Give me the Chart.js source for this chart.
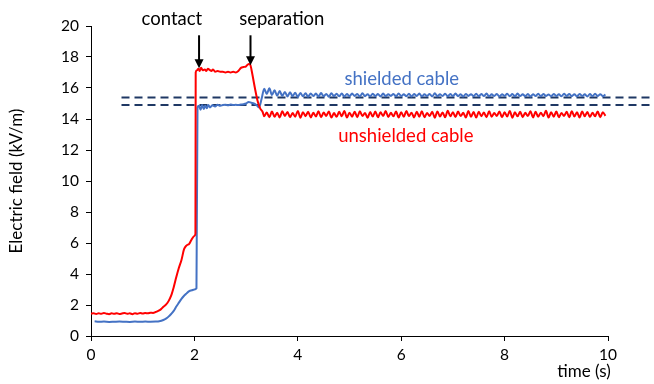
<!DOCTYPE html>
<html>
<head>
<meta charset="utf-8">
<script src="https://cdn.jsdelivr.net/npm/chart.js@4/dist/chart.umd.min.js"></script>
<style>
  html, body { margin: 0; padding: 0; background: #fff; }
  canvas { display: block; }
</style>
</head>
<body>
<canvas id="fieldChart" width="654" height="384"></canvas>
<script>
// ---- data ----
const xTicks = [0, 2, 4, 6, 8, 10];
const yTicks = [0, 2, 4, 6, 8, 10, 12, 14, 16, 18, 20];

// unshielded cable, before it settles
const redHeadTime = [
  0.00, 0.05, 0.10, 0.15, 0.20, 0.25, 0.30, 0.35, 0.40, 0.45,
  0.50, 0.55, 0.60, 0.65, 0.70, 0.75, 0.80, 0.85, 0.90, 0.95,
  1.00, 1.05, 1.10, 1.15, 1.20, 1.25, 1.30, 1.35, 1.40, 1.45,
  1.50, 1.55, 1.60, 1.65, 1.70, 1.75, 1.80, 1.85, 1.90, 1.95,
  2.00, 2.02, 2.025, 2.05, 2.08, 2.10, 2.13, 2.16, 2.20, 2.23,
  2.26, 2.30, 2.33, 2.36, 2.40, 2.45, 2.50, 2.55, 2.60, 2.65,
  2.70, 2.75, 2.80, 2.85, 2.90, 2.95, 3.00, 3.05, 3.08, 3.12,
  3.17, 3.22, 3.27, 3.32
];
const redHeadField = [
  1.44, 1.47, 1.42, 1.46, 1.43, 1.48, 1.44, 1.41, 1.46, 1.43,
  1.47, 1.42, 1.45, 1.48, 1.43, 1.46, 1.41, 1.47, 1.44, 1.49,
  1.45, 1.48, 1.46, 1.50, 1.49, 1.55, 1.62, 1.72, 1.88, 2.02,
  2.25, 2.60, 3.15, 3.80, 4.40, 4.90, 5.60, 5.85, 5.95, 6.25,
  6.45, 6.60, 17.00, 17.15, 17.25, 17.10, 17.30, 17.15, 17.20, 17.10,
  17.25, 17.15, 17.10, 17.20, 17.05, 17.10, 17.05, 17.05, 17.00, 17.05,
  17.00, 17.05, 17.00, 17.10, 17.30, 17.35, 17.40, 17.55, 17.50, 16.90,
  16.00, 15.20, 14.70, 14.45
];

// shielded cable, before it settles
const blueHeadTime = [
  0.07, 0.15, 0.25, 0.35, 0.45, 0.55, 0.65, 0.75, 0.85, 0.95,
  1.05, 1.15, 1.25, 1.32, 1.40, 1.45, 1.50, 1.55, 1.60, 1.65,
  1.70, 1.75, 1.80, 1.85, 1.90, 1.95, 2.00, 2.04, 2.06, 2.09,
  2.12, 2.15, 2.18, 2.21, 2.24, 2.27, 2.30, 2.35, 2.40, 2.45,
  2.50, 2.55, 2.60, 2.65, 2.70, 2.75, 2.80, 2.85, 2.90, 2.95,
  3.00, 3.05, 3.10, 3.15, 3.20, 3.25, 3.30
];
const blueHeadField = [
  0.95, 0.92, 0.93, 0.91, 0.92, 0.93, 0.92, 0.91, 0.93, 0.92,
  0.93, 0.92, 0.93, 0.95, 1.03, 1.12, 1.25, 1.42, 1.62, 1.90,
  2.15, 2.40, 2.60, 2.75, 2.90, 2.95, 3.00, 3.08, 14.75, 14.85,
  14.60, 14.90, 14.65, 14.85, 14.70, 14.90, 14.75, 14.88, 14.80, 14.92,
  14.85, 14.90, 14.92, 14.88, 14.93, 14.90, 14.92, 14.90, 14.93, 14.95,
  15.00, 15.10, 15.05, 15.00, 14.90, 14.75, 15.30
];

// settled part, same sampling for both cables
const tailTime = [
  3.35, 3.40, 3.45, 3.50, 3.55, 3.60, 3.65, 3.70, 3.75, 3.80,
  3.85, 3.90, 3.95, 4.00, 4.05, 4.10, 4.15, 4.20, 4.25, 4.30,
  4.35, 4.40, 4.45, 4.50, 4.55, 4.60, 4.65, 4.70, 4.75, 4.80,
  4.85, 4.90, 4.95, 5.00, 5.05, 5.10, 5.15, 5.20, 5.25, 5.30,
  5.35, 5.40, 5.45, 5.50, 5.55, 5.60, 5.65, 5.70, 5.75, 5.80,
  5.85, 5.90, 5.95, 6.00, 6.05, 6.10, 6.15, 6.20, 6.25, 6.30,
  6.35, 6.40, 6.45, 6.50, 6.55, 6.60, 6.65, 6.70, 6.75, 6.80,
  6.85, 6.90, 6.95, 7.00, 7.05, 7.10, 7.15, 7.20, 7.25, 7.30,
  7.35, 7.40, 7.45, 7.50, 7.55, 7.60, 7.65, 7.70, 7.75, 7.80,
  7.85, 7.90, 7.95, 8.00, 8.05, 8.10, 8.15, 8.20, 8.25, 8.30,
  8.35, 8.40, 8.45, 8.50, 8.55, 8.60, 8.65, 8.70, 8.75, 8.80,
  8.85, 8.90, 8.95, 9.00, 9.05, 9.10, 9.15, 9.20, 9.25, 9.30,
  9.35, 9.40, 9.45, 9.50, 9.55, 9.60, 9.65, 9.70, 9.75, 9.80,
  9.85, 9.90, 9.95
];
const redTailField = [
  14.18, 14.42, 14.12, 14.48, 14.15, 14.40, 14.10, 14.50, 14.20, 14.45,
  14.12, 14.38, 14.15, 14.52, 14.08, 14.44, 14.18, 14.47, 14.10, 14.40,
  14.16, 14.50, 14.12, 14.42, 14.20, 14.48, 14.09, 14.38, 14.14, 14.46,
  14.18, 14.52, 14.10, 14.41, 14.15, 14.47, 14.12, 14.50, 14.20, 14.39,
  14.08, 14.45, 14.16, 14.49, 14.11, 14.43, 14.19, 14.51, 14.13, 14.40,
  14.17, 14.48, 14.09, 14.44, 14.14, 14.52, 14.18, 14.41, 14.10, 14.47,
  14.15, 14.50, 14.12, 14.39, 14.20, 14.46, 14.08, 14.49, 14.16, 14.42,
  14.11, 14.53, 14.17, 14.44, 14.13, 14.48, 14.19, 14.40, 14.10, 14.51,
  14.14, 14.45, 14.09, 14.47, 14.18, 14.42, 14.12, 14.50, 14.15, 14.38,
  14.20, 14.49, 14.11, 14.44, 14.16, 14.52, 14.08, 14.43, 14.17, 14.47,
  14.12, 14.40, 14.19, 14.50, 14.10, 14.46, 14.14, 14.41, 14.18, 14.53,
  14.09, 14.44, 14.15, 14.48, 14.12, 14.39, 14.20, 14.47, 14.11, 14.50,
  14.16, 14.43, 14.10, 14.49, 14.18, 14.45, 14.13, 14.41, 14.17, 14.48,
  14.12, 14.44, 14.20
];
const blueTailField = [
  15.95, 15.62, 15.98, 15.55, 15.85, 15.50, 15.80, 15.48, 15.75, 15.45,
  15.72, 15.47, 15.70, 15.42, 15.68, 15.46, 15.66, 15.44, 15.65, 15.48,
  15.64, 15.45, 15.67, 15.47, 15.62, 15.44, 15.66, 15.48, 15.63, 15.46,
  15.65, 15.45, 15.61, 15.47, 15.64, 15.49, 15.62, 15.45, 15.66, 15.47,
  15.60, 15.46, 15.63, 15.48, 15.61, 15.45, 15.64, 15.47, 15.60, 15.49,
  15.62, 15.46, 15.65, 15.48, 15.59, 15.47, 15.63, 15.45, 15.61, 15.49,
  15.64, 15.46, 15.60, 15.48, 15.62, 15.45, 15.66, 15.47, 15.59, 15.49,
  15.63, 15.46, 15.61, 15.48, 15.64, 15.47, 15.60, 15.45, 15.62, 15.49,
  15.60, 15.47, 15.63, 15.46, 15.61, 15.48, 15.64, 15.46, 15.59, 15.48,
  15.62, 15.45, 15.60, 15.49, 15.63, 15.47, 15.61, 15.46, 15.64, 15.48,
  15.59, 15.47, 15.62, 15.45, 15.60, 15.48, 15.63, 15.46, 15.61, 15.49,
  15.58, 15.47, 15.62, 15.48, 15.60, 15.46, 15.63, 15.49, 15.61, 15.47,
  15.60, 15.46, 15.62, 15.48, 15.59, 15.45, 15.61, 15.47, 15.63, 15.48,
  15.60, 15.47, 15.58
];

// the two dashed reference levels
const refTime = [0.59, 10.85];
const refUpper = [15.38, 15.38];
const refLower = [14.90, 14.90];

// ---- helpers ----
function toPoints(times, values) {
  return times.map((t, i) => ({ x: t, y: values[i] }));
}

const FONT = "Lato, 'Liberation Sans', sans-serif";

// arrows and text written on the plot (in data units)
const arrows = [
  { t: 2.09, from: 19.4, to: 17.27 },
  { t: 3.085, from: 19.4, to: 17.46 }
];
const notes = [
  { text: 'contact', t: 1.565, v: 20.43, color: '#000000' },
  { text: 'separation', t: 3.69, v: 20.43, color: '#000000' },
  { text: 'shielded cable', t: 6.01, v: 16.56, color: '#4472C4' },
  { text: 'unshielded cable', t: 6.09, v: 12.89, color: '#FF0000' }
];

const annotate = {
  id: 'annotate',
  afterDatasetsDraw(chart) {
    const { ctx, scales: { x, y }, chartArea } = chart;
    ctx.save();

    arrows.forEach(a => {
      const px = x.getPixelForValue(a.t);
      const top = y.getPixelForValue(a.from);
      const tip = y.getPixelForValue(a.to);
      ctx.strokeStyle = '#000';
      ctx.lineWidth = 2;
      ctx.beginPath();
      ctx.moveTo(px, top);
      ctx.lineTo(px, tip - 7);
      ctx.stroke();
      ctx.fillStyle = '#000';
      ctx.beginPath();
      ctx.moveTo(px - 4.5, tip - 9);
      ctx.lineTo(px + 4.5, tip - 9);
      ctx.lineTo(px, tip);
      ctx.closePath();
      ctx.fill();
    });

    ctx.font = '18.5px ' + FONT;
    ctx.textAlign = 'center';
    ctx.textBaseline = 'middle';
    notes.forEach(n => {
      ctx.fillStyle = n.color;
      ctx.fillText(n.text, x.getPixelForValue(n.t), y.getPixelForValue(n.v));
    });

    // axis titles
    ctx.font = '17px ' + FONT;
    ctx.fillStyle = '#000';
    ctx.fillText('time (s)', chartArea.right - 24, 372);
    ctx.translate(17, (chartArea.top + chartArea.bottom) / 2);
    ctx.rotate(-Math.PI / 2);
    ctx.fillText('Electric field (kV/m)', 0, 0);
    ctx.restore();
  }
};

function initChart() {
  const ctx = document.getElementById('fieldChart');

  new Chart(ctx, {
    type: 'line',
    data: {
      datasets: [
        {
          label: 'unshielded cable',
          data: toPoints(redHeadTime.concat(tailTime), redHeadField.concat(redTailField)),
          borderColor: '#FF0000',
          borderWidth: 2,
          cubicInterpolationMode: 'monotone'
        },
        {
          label: 'shielded cable',
          data: toPoints(blueHeadTime.concat(tailTime), blueHeadField.concat(blueTailField)),
          borderColor: '#4472C4',
          borderWidth: 2,
          cubicInterpolationMode: 'monotone'
        },
        {
          label: 'upper level',
          data: toPoints(refTime, refUpper),
          borderColor: '#1F3864',
          borderWidth: 2,
          borderDash: [8, 5],
          clip: false
        },
        {
          label: 'lower level',
          data: toPoints(refTime, refLower),
          borderColor: '#1F3864',
          borderWidth: 2,
          borderDash: [8, 5],
          clip: false
        }
      ]
    },
    options: {
      responsive: false,
      animation: false,
      layout: { padding: { left: 0, right: 46, top: 26, bottom: 0 } },
      elements: {
        point: { radius: 0 },
        line: { tension: 0, fill: false }
      },
      plugins: {
        legend: { display: false },
        tooltip: { enabled: false }
      },
      scales: {
        x: {
          type: 'linear',
          min: 0,
          max: 10,
          afterBuildTicks: s => { s.ticks = xTicks.map(v => ({ value: v })); },
          afterFit: s => { s.height = 48; },
          ticks: { color: '#000', font: { family: FONT, size: 15.5 }, padding: 5, maxRotation: 0 },
          grid: { drawOnChartArea: false, drawTicks: true, tickLength: 5, color: '#000' },
          border: { color: '#000', width: 1 }
        },
        y: {
          min: 0,
          max: 20,
          afterBuildTicks: s => { s.ticks = yTicks.map(v => ({ value: v })); },
          afterFit: s => { s.width = 91; },
          ticks: { color: '#000', font: { family: FONT, size: 15.5 }, padding: 7 },
          grid: { drawOnChartArea: false, drawTicks: true, tickLength: 5, color: '#000' },
          border: { color: '#000', width: 1 }
        }
      }
    },
    plugins: [annotate]
  });
}

initChart();
</script>
</body>
</html>
